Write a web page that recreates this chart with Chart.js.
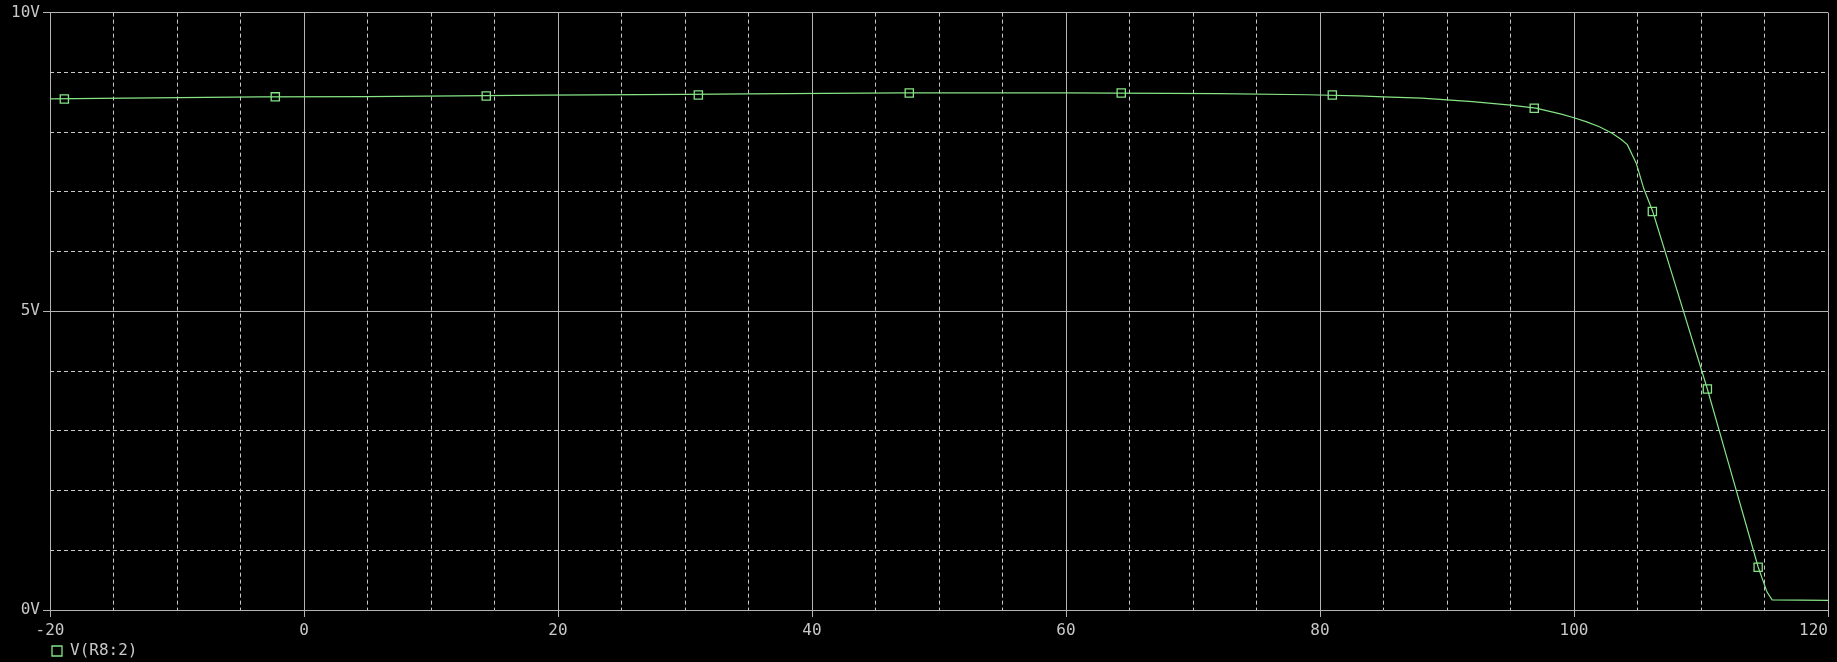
<!DOCTYPE html>
<html>
<head>
<meta charset="utf-8">
<script src="https://cdn.jsdelivr.net/npm/chart.js@4/dist/chart.umd.min.js"></script>
<style>
  html, body { margin: 0; padding: 0; background: #000; }
  #wrap { width: 1837px; height: 662px; position: relative; }
</style>
</head>
<body>
<div id="wrap"><canvas id="myChart"></canvas></div>
<script>
// Sweep values (temperature) and output voltage
let sweepTemp = [-20, -14, -3.5, 5, 12, 19, 30, 35, 47, 60, 72, 79, 83, 85, 88, 90, 92, 95, 97, 98, 99, 100, 101, 102, 103, 103.7, 104.2, 104.9, 105.5, 106.2, 108, 110.5, 112, 114.5, 115.2, 115.6, 120];
let voltOut = [8.555, 8.57, 8.59, 8.595, 8.605, 8.62, 8.63, 8.638, 8.655, 8.655, 8.645, 8.625, 8.605, 8.59, 8.57, 8.54, 8.51, 8.45, 8.40, 8.35, 8.30, 8.24, 8.17, 8.09, 7.98, 7.88, 7.79, 7.48, 7.05, 6.67, 5.43, 3.70, 2.58, 0.72, 0.30, 0.17, 0.16];

// marker squares on the trace
let markerTemp = [-18.87, -2.26, 14.35, 31.05, 47.66, 64.35, 80.97, 96.87, 106.17, 110.5, 114.5];
let markerVolt = [8.555, 8.59, 8.605, 8.62, 8.655, 8.655, 8.62, 8.40, 6.67, 3.70, 0.715];

let traceName = "V(R8:2)";

let xMin = -20, xMax = 120, xMajor = 20, xMinor = 5;
let yMin = 0, yMax = 10, yMajor = 5, yMinor = 1;

let traceColor = "#86e486",
  majorColor = "#b4b4b4",
  minorColor = "#c8c8c8",
  textColor = "#c8c8c8";

Chart.defaults.font.family = "'DejaVu Sans Mono', monospace";
Chart.defaults.font.size = 16;
Chart.defaults.color = textColor;

//legend sits under the plot, not at the canvas edge
const legendShift = {
  id: "legendShift",
  afterLayout(chart) {
    chart.legend.left = 47;
  },
};

let ctx = document.getElementById("myChart").getContext("2d");
let myChart = new Chart(ctx, {
  type: "scatter",
  plugins: [legendShift],
  data: {
    datasets: [
      {
        label: "trace",
        data: sweepTemp.map((t, i) => ({ x: t, y: voltOut[i] })),
        showLine: true,
        borderColor: traceColor,
        borderWidth: 1.2,
        pointRadius: 0,
        tension: 0,
      },
      {
        label: traceName,
        data: markerTemp.map((t, i) => ({ x: t, y: markerVolt[i] })),
        showLine: false,
        pointStyle: "rect",
        pointRadius: 5.8,
        pointBorderWidth: 1.3,
        borderColor: traceColor,
        backgroundColor: "#000",
        borderWidth: 1.3,
      },
    ],
  },
  options: {
    responsive: true,
    maintainAspectRatio: false,
    animation: false,
    layout: { padding: { left: 0, right: 9, top: 11, bottom: -7 } },
    plugins: {
      tooltip: { enabled: false },
      legend: {
        position: "bottom",
        align: "start",
        labels: {
          filter: (item) => item.text === traceName,
          usePointStyle: true,
          boxWidth: 10,
          boxHeight: 10,
          padding: 5,
          color: textColor,
        },
      },
    },
    scales: {
      x: {
        type: "linear",
        min: xMin,
        max: xMax,
        ticks: {
          stepSize: xMajor,
          padding: 4,
          maxRotation: 0,
          autoSkip: false,
          //last label sits flush to the right edge
          callback: (v) => (v === xMax ? v + "   " : String(v)),
        },
        grid: { color: majorColor, tickColor: majorColor, tickLength: 7, lineWidth: 1 },
        border: { display: false },
        afterFit: (scale) => {
          scale.height = 28;
          scale.paddingRight = 0;
        },
      },
      x2: {
        type: "linear",
        axis: "x",
        position: "bottom",
        min: xMin,
        max: xMax,
        ticks: { display: false, stepSize: xMinor },
        grid: {
          drawTicks: false,
          color: (c) => (c.tick && c.tick.value % xMajor === 0 ? "rgba(0,0,0,0)" : minorColor),
        },
        border: { display: false, dash: [4, 3] },
        afterFit: (scale) => { scale.height = 0; },
      },
      y: {
        type: "linear",
        min: yMin,
        max: yMax,
        ticks: { stepSize: yMajor, padding: 3, callback: (v) => v + "V" },
        grid: { color: majorColor, tickColor: majorColor, tickLength: 7, lineWidth: 1 },
        border: { display: false },
        afterFit: (scale) => { scale.width = 50; },
      },
      y2: {
        type: "linear",
        axis: "y",
        position: "left",
        min: yMin,
        max: yMax,
        ticks: { display: false, stepSize: yMinor },
        grid: {
          drawTicks: false,
          color: (c) => (c.tick && c.tick.value % yMajor === 0 ? "rgba(0,0,0,0)" : minorColor),
        },
        border: { display: false, dash: [4, 3] },
        afterFit: (scale) => { scale.width = 0; },
      },
    },
  },
});
</script>
</body>
</html>
